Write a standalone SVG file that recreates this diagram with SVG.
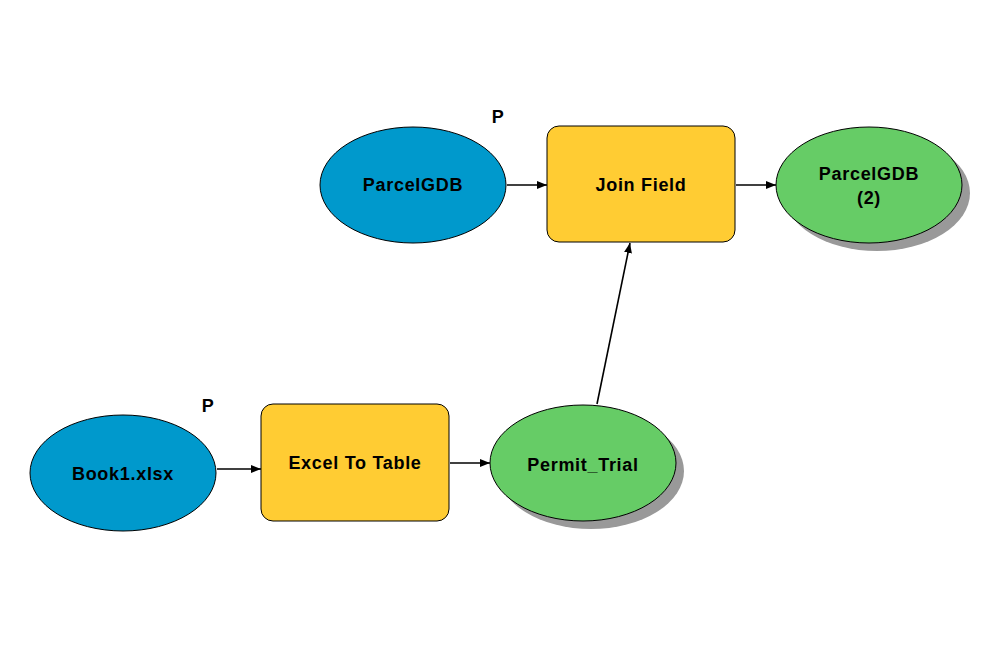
<svg xmlns="http://www.w3.org/2000/svg" width="992" height="659" viewBox="0 0 992 659">
<style>
.t{font-family:"Liberation Sans",Arial,sans-serif;font-size:18px;font-weight:bold;letter-spacing:0.7px;fill:#000;text-anchor:middle;dominant-baseline:central}
.in{fill:#0099cc;stroke:#000;stroke-width:1}
.out{fill:#66cc66;stroke:#000;stroke-width:1}
.sh{fill:#999999}
.tool{fill:#ffcc33;stroke:#000;stroke-width:1}
.c{stroke:#000;stroke-width:1.6;fill:none;marker-end:url(#a)}
</style>
<defs>
<marker id="a" viewBox="0 0 10 10" refX="10" refY="5" markerWidth="10" markerHeight="10" markerUnits="userSpaceOnUse" orient="auto">
<path d="M0,1 L10,5 L0,9 z" fill="#000"/>
</marker>
</defs>
<rect width="992" height="659" fill="#fff"/>
<g id="connectors">
<line class="c" x1="507" y1="185" x2="547" y2="185"/>
<line class="c" x1="736" y1="185" x2="776" y2="185"/>
<line class="c" x1="217" y1="469" x2="261" y2="469"/>
<line class="c" x1="450" y1="463" x2="490" y2="463"/>
<line class="c" x1="597" y1="404" x2="630" y2="243"/>
</g>
<g id="parcelgdb">
<ellipse class="in" cx="413" cy="185" rx="93" ry="58"/>
<text class="t" x="413" y="185">ParcelGDB</text>
<text class="t" x="498" y="117">P</text>
</g>
<g id="joinfield">
<rect class="tool" x="547" y="126" width="188" height="116" rx="12"/>
<text class="t" x="641" y="185">Join Field</text>
</g>
<g id="parcelgdb2">
<ellipse class="sh" cx="877" cy="193" rx="93" ry="58"/>
<ellipse class="out" cx="869" cy="185" rx="93" ry="58"/>
<text class="t" x="869" y="174">ParcelGDB</text>
<text class="t" x="869" y="198">(2)</text>
</g>
<g id="book1">
<ellipse class="in" cx="123" cy="473" rx="93" ry="58"/>
<text class="t" x="123" y="474">Book1.xlsx</text>
<text class="t" x="208" y="406">P</text>
</g>
<g id="exceltotable">
<rect class="tool" x="261" y="404" width="188" height="117" rx="12"/>
<text class="t" x="355" y="463">Excel To Table</text>
</g>
<g id="permittrial">
<ellipse class="sh" cx="591" cy="471" rx="93" ry="58"/>
<ellipse class="out" cx="583" cy="463" rx="93" ry="58"/>
<text class="t" x="583" y="465">Permit_Trial</text>
</g>
</svg>
